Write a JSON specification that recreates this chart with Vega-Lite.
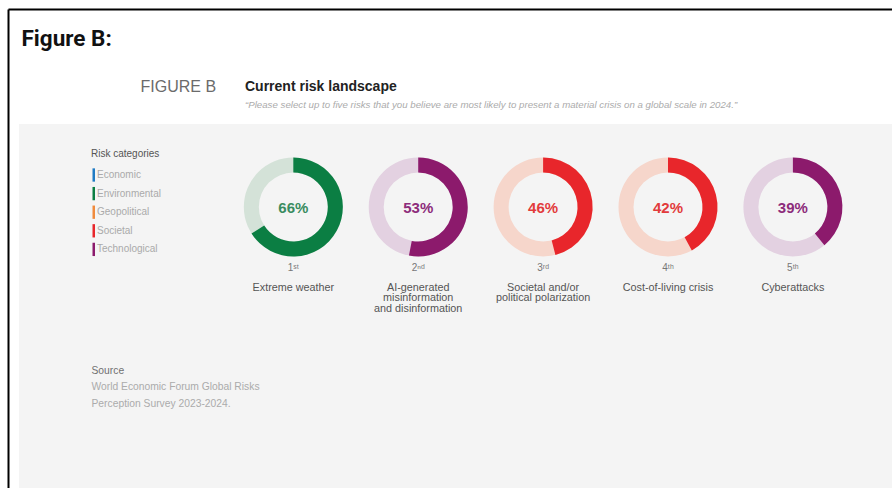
{
  "$schema": "https://vega.github.io/schema/vega-lite/v6.json",
  "autosize": {"type": "none"},
  "width": 873,
  "height": 364,
  "padding": {"left": 19, "top": 124, "right": 0, "bottom": 0},
  "background": "#ffffff",
  "config": {
    "view": {"fill": "#f4f4f4", "stroke": null},
    "font": "Liberation Sans"
  },
  "title": {
    "text": "Current risk landscape",
    "subtitle": "“Please select up to five risks that you believe are most likely to present a material crisis on a global scale in 2024.”",
    "anchor": "start",
    "frame": "group",
    "dx": 226,
    "offset": -101,
    "font": "Liberation Sans",
    "fontSize": 14,
    "fontWeight": "bold",
    "color": "#222222",
    "subtitleFont": "Liberation Sans",
    "subtitleFontSize": 9.7,
    "subtitleFontStyle": "italic",
    "subtitleColor": "#ababab",
    "subtitlePadding": 6
  },
  "data": {
    "values": [
      {"rank": 1, "ord": "1ˢᵗ", "risk": "Extreme weather", "category": "Environmental", "share": 0.66},
      {"rank": 2, "ord": "2ⁿᵈ", "risk": "AI-generated\nmisinformation\nand disinformation", "category": "Technological", "share": 0.53},
      {"rank": 3, "ord": "3ʳᵈ", "risk": "Societal and/or\npolitical polarization", "category": "Societal", "share": 0.46},
      {"rank": 4, "ord": "4ᵗʰ", "risk": "Cost-of-living crisis", "category": "Societal", "share": 0.42},
      {"rank": 5, "ord": "5ᵗʰ", "risk": "Cyberattacks", "category": "Technological", "share": 0.39}
    ]
  },
  "resolve": {
    "scale": {"color": "independent"},
    "axis": {"x": "independent", "y": "independent"}
  },
  "layer": [
    {
      "mark": {"type": "arc", "radius": 49.5, "radius2": 34.5},
      "encoding": {
        "x": {
          "field": "rank", "type": "quantitative", "stack": false,
          "scale": {"domain": [-1.2846, 5.7936], "range": [-11, 873], "nice": false, "zero": false},
          "axis": {
            "orient": "top", "offset": 115, "domain": true, "domainColor": "#000000", "domainWidth": 2,
            "ticks": false, "labels": false, "grid": false,
            "title": "Figure B:", "titleX": 2, "titleY": 36, "titleAlign": "left", "titleBaseline": "alphabetic",
            "titleFont": "Roboto", "titleFontSize": 22.5, "titleFontWeight": "bold", "titleColor": "#111111"
          }
        },
        "y": {
          "datum": 0, "type": "quantitative",
          "scale": {"domain": [-2.81, 1.98], "range": [364, -115], "nice": false, "zero": false},
          "axis": {
            "orient": "left", "offset": 11, "domain": true, "domainColor": "#000000", "domainWidth": 2,
            "ticks": false, "labels": false, "grid": false,
            "title": "FIGURE B", "titleAngle": 0, "titleX": 132, "titleY": -33, "titleAlign": "left", "titleBaseline": "alphabetic",
            "titleFont": "Liberation Sans", "titleFontSize": 16, "titleFontWeight": "normal", "titleColor": "#6b6b6b"
          }
        },
        "theta": {"datum": 1, "type": "quantitative", "stack": false, "scale": {"domain": [0, 1], "range": [0, 6.283185]}},
        "color": {
          "field": "category", "type": "nominal",
          "scale": {
            "domain": ["Economic", "Environmental", "Geopolitical", "Societal", "Technological"],
            "range": ["#cfe0ee", "#d4e2d8", "#f8dcc6", "#f6d6cb", "#e3d1e1"]
          },
          "legend": null
        }
      }
    },
    {
      "mark": {"type": "arc", "radius": 49.5, "radius2": 34.5},
      "encoding": {
        "x": {
          "field": "rank", "type": "quantitative", "stack": false,
          "axis": {
            "orient": "bottom", "domain": false, "ticks": false, "labels": false, "grid": false,
            "title": ["World Economic Forum Global Risks", "Perception Survey 2023-2024."],
            "titleX": 72, "titleY": -98.5, "titleAlign": "left", "titleBaseline": "alphabetic", "titleLineHeight": 16.7,
            "titleFont": "Liberation Sans", "titleFontSize": 10.3, "titleFontWeight": "normal", "titleColor": "#ababab"
          }
        },
        "y": {
          "datum": 0, "type": "quantitative",
          "axis": {
            "orient": "right", "domain": false, "ticks": false, "labels": false, "grid": false,
            "title": "Source", "titleAngle": 0, "titleX": -801, "titleY": 249, "titleAlign": "left", "titleBaseline": "alphabetic",
            "titleFont": "Liberation Sans", "titleFontSize": 10.3, "titleFontWeight": "normal", "titleColor": "#707070"
          }
        },
        "theta": {"field": "share", "type": "quantitative", "stack": false},
        "color": {
          "field": "category", "type": "nominal",
          "scale": {
            "domain": ["Economic", "Environmental", "Geopolitical", "Societal", "Technological"],
            "range": ["#1f7bc4", "#0b7e43", "#f08a3c", "#e8262b", "#8c1a6c"]
          },
          "legend": {
            "orient": "none", "legendX": 72, "legendY": 25, "padding": 0,
            "title": "Risk categories", "titleFont": "Liberation Sans", "titleFontSize": 10, "titleFontWeight": "normal", "titleColor": "#555555",
            "titlePadding": 11,
            "labelFont": "Liberation Sans", "labelFontSize": 10, "labelColor": "#aaaaaa", "labelOffset": -4,
            "symbolType": "M-1,-1.9H-0.28V1.9H-1Z", "symbolSize": 49, "symbolStrokeWidth": 0, "symbolOpacity": 1,
            "rowPadding": 4.6
          }
        }
      }
    },
    {
      "mark": {"type": "text", "font": "Liberation Sans", "fontSize": 15, "fontWeight": "bold", "baseline": "middle", "align": "center", "dy": 1},
      "encoding": {
        "x": {"field": "rank", "type": "quantitative", "axis": null},
        "y": {"datum": 0, "type": "quantitative", "axis": null},
        "text": {"field": "share", "type": "quantitative", "format": ".0%"},
        "color": {
          "field": "category", "type": "nominal",
          "scale": {
            "domain": ["Economic", "Environmental", "Geopolitical", "Societal", "Technological"],
            "range": ["#2f80c0", "#3a8c60", "#f0904a", "#e23b3c", "#8d2c7b"]
          },
          "legend": null
        }
      }
    },
    {
      "mark": {"type": "text", "font": "Liberation Sans", "fontSize": 10, "baseline": "middle", "align": "center", "dy": 60.5, "color": "#777777"},
      "encoding": {
        "x": {"field": "rank", "type": "quantitative", "axis": null},
        "y": {"datum": 0, "type": "quantitative", "axis": null},
        "text": {"field": "ord", "type": "nominal"}
      }
    },
    {
      "mark": {"type": "text", "font": "Liberation Sans", "fontSize": 10.8, "baseline": "alphabetic", "align": "center", "dy": 83.6, "lineBreak": "\n", "lineHeight": 10.9, "color": "#555555"},
      "encoding": {
        "x": {"field": "rank", "type": "quantitative", "axis": null},
        "y": {"datum": 0, "type": "quantitative", "axis": null},
        "text": {"field": "risk", "type": "nominal"}
      }
    }
  ]
}
